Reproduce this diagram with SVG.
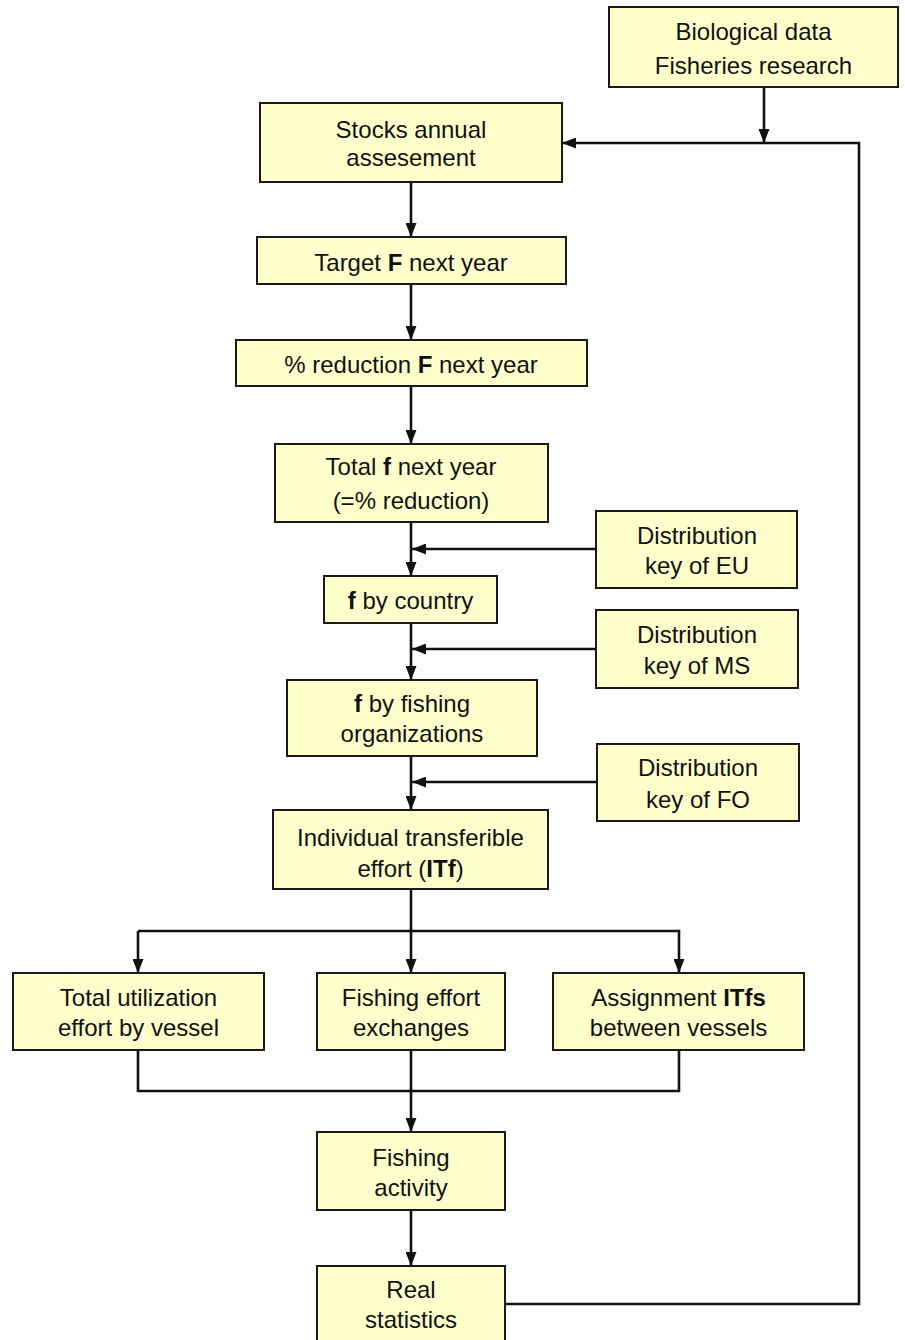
<svg xmlns="http://www.w3.org/2000/svg" width="905" height="1340" viewBox="0 0 905 1340">
<style>
.box{fill:#ffffcc;stroke:#1a1a1a;stroke-width:2}
.t{font-family:"Liberation Sans",Arial,sans-serif;font-size:24px;fill:#111;text-anchor:middle}
.b{font-weight:bold}
.c{fill:none;stroke:#111;stroke-width:2.6}
</style>
<defs>
<marker id="ah" viewBox="0 0 14 11" refX="14" refY="5.5" markerWidth="14" markerHeight="11" markerUnits="userSpaceOnUse" orient="auto">
<path d="M0,0 L14,5.5 L0,11 z" fill="#111"/>
</marker>
</defs>
<rect width="905" height="1340" fill="#fff"/>
<g id="connectors">
<path class="c" d="M764,87 V143" marker-end="url(#ah)"/>
<path class="c" d="M505,1304 H859 V143 H562" marker-end="url(#ah)"/>
<path class="c" d="M411,182 V237" marker-end="url(#ah)"/>
<path class="c" d="M411,284 V340" marker-end="url(#ah)"/>
<path class="c" d="M411,386 V444" marker-end="url(#ah)"/>
<path class="c" d="M411,522 V576" marker-end="url(#ah)"/>
<path class="c" d="M596,549 H412" marker-end="url(#ah)"/>
<path class="c" d="M411,623 V680" marker-end="url(#ah)"/>
<path class="c" d="M596,649 H412" marker-end="url(#ah)"/>
<path class="c" d="M411,756 V810" marker-end="url(#ah)"/>
<path class="c" d="M597,782 H412" marker-end="url(#ah)"/>
<path class="c" d="M411,889 V931"/>
<path class="c" d="M138,931 H679 V973" marker-end="url(#ah)"/>
<path class="c" d="M138,931 V973" marker-end="url(#ah)"/>
<path class="c" d="M411,931 V973" marker-end="url(#ah)"/>
<path class="c" d="M138,1050 V1091 H679 V1050"/>
<path class="c" d="M411,1050 V1132" marker-end="url(#ah)"/>
<path class="c" d="M411,1210 V1266" marker-end="url(#ah)"/>
</g>
<g id="bio"><rect class="box" x="609" y="7" width="289" height="80"/><text class="t" x="753.5" y="40">Biological data</text><text class="t" x="753.5" y="74">Fisheries research</text></g>
<g id="stocks"><rect class="box" x="260" y="103" width="302" height="79"/><text class="t" x="411" y="138">Stocks annual</text><text class="t" x="411" y="166">assesement</text></g>
<g id="target"><rect class="box" x="257" y="237" width="309" height="47"/><text class="t" x="411" y="271">Target <tspan class="b">F</tspan> next year</text></g>
<g id="reduction"><rect class="box" x="236" y="340" width="351" height="46"/><text class="t" x="411" y="373">% reduction <tspan class="b">F</tspan> next year</text></g>
<g id="totalf"><rect class="box" x="275" y="444" width="273" height="78"/><text class="t" x="411" y="475">Total <tspan class="b">f</tspan> next year</text><text class="t" x="411" y="509">(=% reduction)</text></g>
<g id="eu"><rect class="box" x="596" y="511" width="201" height="77"/><text class="t" x="697" y="544">Distribution</text><text class="t" x="697" y="574">key of EU</text></g>
<g id="country"><rect class="box" x="324" y="576" width="173" height="47"/><text class="t" x="410.5" y="609"><tspan class="b">f</tspan> by country</text></g>
<g id="ms"><rect class="box" x="596" y="610" width="202" height="78"/><text class="t" x="697" y="643">Distribution</text><text class="t" x="697" y="674">key of MS</text></g>
<g id="fishorg"><rect class="box" x="287" y="680" width="250" height="76"/><text class="t" x="412" y="712"><tspan class="b">f</tspan> by fishing</text><text class="t" x="412" y="742">organizations</text></g>
<g id="fo"><rect class="box" x="597" y="744" width="202" height="77"/><text class="t" x="698" y="776">Distribution</text><text class="t" x="698" y="808">key of FO</text></g>
<g id="itf"><rect class="box" x="273" y="810" width="275" height="79"/><text class="t" x="410.5" y="846">Individual transferible</text><text class="t" x="410.5" y="877">effort (<tspan class="b">ITf</tspan>)</text></g>
<g id="util"><rect class="box" x="13" y="973" width="251" height="77"/><text class="t" x="138.5" y="1006">Total utilization</text><text class="t" x="138.5" y="1036">effort by vessel</text></g>
<g id="exch"><rect class="box" x="317" y="973" width="188" height="77"/><text class="t" x="411" y="1006">Fishing effort</text><text class="t" x="411" y="1036">exchanges</text></g>
<g id="assign"><rect class="box" x="553" y="973" width="251" height="77"/><text class="t" x="678.5" y="1006">Assignment <tspan class="b">ITfs</tspan></text><text class="t" x="678.5" y="1036">between vessels</text></g>
<g id="activity"><rect class="box" x="317" y="1132" width="188" height="78"/><text class="t" x="411" y="1166">Fishing</text><text class="t" x="411" y="1196">activity</text></g>
<g id="real"><rect class="box" x="317" y="1266" width="188" height="84"/><text class="t" x="411" y="1298">Real</text><text class="t" x="411" y="1328">statistics</text></g>
</svg>
